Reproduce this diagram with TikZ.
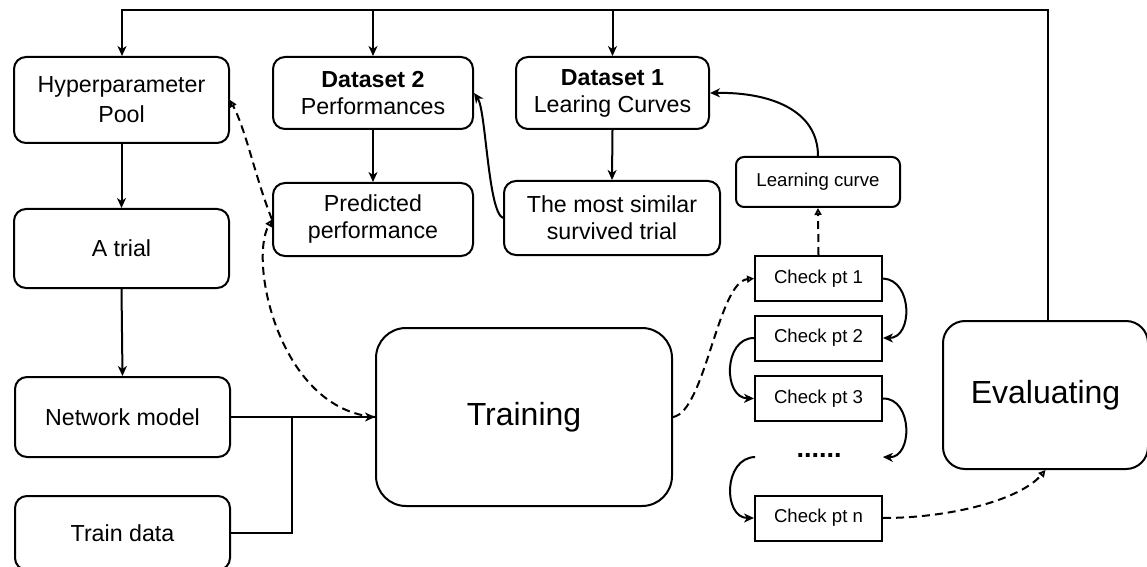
\documentclass[tikz,border=0pt]{standalone}
\usepackage{fontspec}
\setmainfont{Liberation Sans}
\usetikzlibrary{arrows.meta}
\begin{document}
\begin{tikzpicture}[x=0.5pt,y=-0.5pt,
  box/.style={draw, line width=1pt, rounded corners=6pt, align=center, inner sep=0pt,
    font=\fontsize{11.6}{13.5}\selectfont},
  cpbox/.style={draw, line width=1pt, inner sep=0pt, minimum width=63.5pt,
    minimum height=22.5pt, font=\fontsize{9.3}{11}\selectfont},
  wire/.style={line width=1pt},
  arr/.style={wire, -{Stealth[length=5pt,width=4.5pt,inset=1.5pt]}},
  darr/.style={wire, dash pattern=on 4pt off 2.5pt, -{Triangle[open,length=3.5pt,width=3.5pt]}},
]
\useasboundingbox (0,0) rectangle (1147,567);

% left column
\node[box, minimum width=107.5pt, minimum height=43pt, font=\fontsize{11.6}{15}\selectfont]
  (hyp) at (121.5,100) {Hyperparameter\\Pool};
\node[box, minimum width=107.5pt, minimum height=39.5pt] (trial) at (121.5,248.5) {A trial};
\node[box, minimum width=107.5pt, minimum height=40pt] (net) at (122.5,417) {Network model};
\node[box, minimum width=107.5pt, minimum height=37pt] (train) at (122.5,533) {Train data};

% datasets and lookups
\node[box, minimum width=100pt, minimum height=36pt] (ds2) at (373,93) {\textbf{Dataset 2}\\Performances};
\node[box, minimum width=100pt, minimum height=36.5pt] (pred) at (373,219.5) {Predicted\\performance};
\node[box, minimum width=96.5pt, minimum height=36pt] (ds1) at (612.5,93) {\textbf{Dataset 1}\\Learing Curves};
\node[box, minimum width=108pt, minimum height=37pt] (sim) at (612,218) {The most similar\\survived trial};
\node[box, rounded corners=4pt, minimum width=82pt, minimum height=25pt,
  font=\fontsize{9.3}{11}\selectfont] (lc) at (818,182) {Learning curve};

% check points
\node[cpbox] (cp1) at (818.5,278.5) {Check pt 1};
\node[cpbox] (cp2) at (818.5,338) {Check pt 2};
\node[cpbox] (cp3) at (818.5,398.5) {Check pt 3};
\node[inner sep=0pt, minimum width=63.5pt, minimum height=22.5pt, text height=0pt, text depth=0pt,
  font=\bfseries\fontsize{13.5}{14}\selectfont] (dots) at (819,457) {......};
\node[cpbox] (cpn) at (818.5,518) {Check pt n};

% main stages
\node[box, rounded corners=15pt, minimum width=148pt, minimum height=89pt,
  font=\fontsize{16}{19}\selectfont] (training) at (524,417) {Training};
\node[box, rounded corners=11pt, minimum width=102.5pt, minimum height=74pt,
  font=\fontsize{16}{19}\selectfont] (eval) at (1045.5,395) {Evaluating};

% feedback loop along the top
\coordinate (tl) at (122,10);
\coordinate (tr) at (1048,10);
\draw[arr] (tr |- eval.north) -- (tr) -- (tl) -- (tl |- hyp.north);
\draw[arr] (tl -| ds2.north) -- (ds2.north);
\draw[arr] (tl -| ds1.north) -- (ds1.north);

% left column flow
\draw[arr] (hyp.south) -- (trial.north);
\draw[arr] (trial.south) -- (net.north);
\draw[arr] (net.east) -- (training.west);
\coordinate (junc) at (292,417);
\draw[wire] (train.east) -| (junc);

% dataset lookups
\draw[arr] (ds2.south) -- (pred.north);
\draw[arr] (ds1.south) -- (sim.north);
\draw[arr] (sim.west) .. controls (488,212) and (486,110) .. (ds2.east);
\draw[arr] (lc.north) .. controls (818,110) and (770,92) .. (ds1.east);

% check point chain
\draw[arr] (cp1.east) .. controls (913,280) and (913,338) .. (cp2.east);
\draw[arr] (cp2.west) .. controls (723,338) and (723,398) .. (cp3.west);
\draw[arr] (cp3.east) .. controls (913,398) and (913,458) .. (dots.east);
\draw[arr] (dots.west) .. controls (723,458) and (723,518) .. (cpn.west);

% dashed information flow
\draw[darr] (training.east) .. controls (705,412) and (718,282) .. (cp1.west);
\draw[darr] (cp1.north) -- (lc.south);
\draw[darr] (cpn.east) .. controls (950,518) and (1020,500) .. (eval.south);
\draw[darr] (training.west) .. controls (280,410) and (248,262) .. (pred.west);
\draw[darr] (pred.west) .. controls (256,180) and (246,130) .. (hyp.east);
\end{tikzpicture}
\end{document}
